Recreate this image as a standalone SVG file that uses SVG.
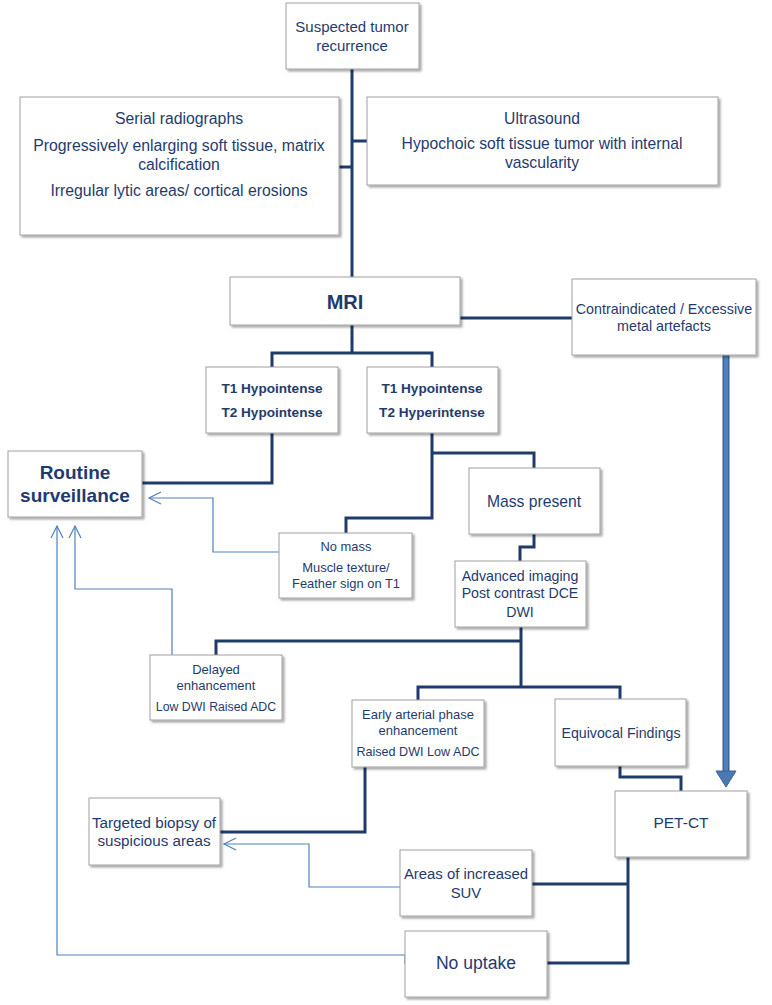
<svg xmlns="http://www.w3.org/2000/svg" width="772" height="1005" viewBox="0 0 772 1005">
<style>
.box{fill:#fff;stroke:#a0a0a0;stroke-width:1;filter:url(#sh)}
.t{font-family:"Liberation Sans",Arial,sans-serif;fill:#1f3b6e;text-anchor:middle}
.b{font-weight:bold}
.c{fill:none;stroke:#1f3b6b;stroke-width:3}
.a{fill:none;stroke:#4f81bd;stroke-width:1.2;marker-end:url(#ah)}
</style>
<defs>
<filter id="sh" x="-10%" y="-10%" width="130%" height="140%">
<feDropShadow dx="2" dy="2" stdDeviation="1.3" flood-color="#000" flood-opacity="0.35"/>
</filter>
<marker id="ah" markerUnits="userSpaceOnUse" markerWidth="16" markerHeight="16" refX="13" refY="7" orient="auto" viewBox="0 0 16 14">
<path d="M1,1 L13,7 L1,13" fill="none" stroke="#4f81bd" stroke-width="1.2"/>
</marker>
</defs>
<rect width="772" height="1005" fill="#fff"/>
<g id="connectors">
<path class="c" d="M352,69 V277"/>
<path class="c" d="M339,167 H352 M352,141 H367"/>
<path class="c" d="M460,318 H572"/>
<path class="c" d="M352,325 V353 M272,367 V353 H432 V367"/>
<path class="c" d="M272,433 V483 H142"/>
<path class="c" d="M432,433 V518 H346 V533 M432,453 H534 V468"/>
<path class="c" d="M534,534 V547 H520 V561"/>
<path class="c" d="M521,627 V687 M216,655 V641 H521 M418,700 V687 H620 V699"/>
<path class="c" d="M365,767 V832 H220"/>
<path class="c" d="M620,766 V777 H681 V791"/>
<path class="c" d="M628,857 V963 H547 M628,884 H532"/>
<path class="a" d="M279,552 H213 V498 H149"/>
<path class="a" d="M172,655 V589 H75 V526"/>
<path class="a" d="M405,964 V955 H57 V526"/>
<path class="a" d="M400,887 H309 V844 H224"/>
<path d="M726,355 V772" stroke="#3a6399" stroke-width="7" fill="none"/>
<path d="M726,355 V772" stroke="#4f81bd" stroke-width="4" fill="none"/>
<polygon points="726,787 716,771 736,771" fill="#4a78b0" stroke="#3a6399" stroke-width="1"/>
</g>
<g id="suspected"><rect class="box" x="286" y="3" width="133" height="66"/>
<text class="t" font-size="15" x="352" y="32">Suspected tumor</text>
<text class="t" font-size="15" x="352" y="51">recurrence</text></g>
<g id="serial"><rect class="box" x="20" y="97" width="319" height="138"/>
<text class="t" font-size="15.8" x="179" y="124">Serial radiographs</text>
<text class="t" font-size="15.8" x="179" y="151">Progressively enlarging soft tissue, matrix</text>
<text class="t" font-size="15.8" x="179" y="170">calcification</text>
<text class="t" font-size="15.8" x="179" y="196">Irregular lytic areas/ cortical erosions</text></g>
<g id="ultrasound"><rect class="box" x="367" y="97" width="351" height="88"/>
<text class="t" font-size="15.7" x="542" y="124">Ultrasound</text>
<text class="t" font-size="15.7" x="542" y="149">Hypochoic soft tissue tumor with internal</text>
<text class="t" font-size="15.7" x="542" y="168">vascularity</text></g>
<g id="mri"><rect class="box" x="230" y="277" width="230" height="48"/>
<text class="t b" font-size="20" x="345" y="309">MRI</text></g>
<g id="contra"><rect class="box" x="572" y="279" width="184" height="76"/>
<text class="t" font-size="14.3" x="664" y="314">Contraindicated / Excessive</text>
<text class="t" font-size="14.3" x="664" y="331">metal artefacts</text></g>
<g id="t1hypo"><rect class="box" x="206" y="367" width="132" height="66"/>
<text class="t b" font-size="13.6" x="272" y="393">T1 Hypointense</text>
<text class="t b" font-size="13.6" x="272" y="417">T2 Hypointense</text></g>
<g id="t1hyper"><rect class="box" x="367" y="367" width="131" height="66"/>
<text class="t b" font-size="13.6" x="432" y="393">T1 Hypointense</text>
<text class="t b" font-size="13.6" x="432" y="417">T2 Hyperintense</text></g>
<g id="routine"><rect class="box" x="8" y="451" width="134" height="66"/>
<text class="t b" font-size="19" x="75" y="479">Routine</text>
<text class="t b" font-size="19" x="75" y="502">surveillance</text></g>
<g id="mass"><rect class="box" x="469" y="468" width="131" height="66"/>
<text class="t" font-size="15.7" x="534" y="507">Mass present</text></g>
<g id="nomass"><rect class="box" x="279" y="533" width="133" height="65"/>
<text class="t" font-size="12.9" x="346" y="551">No mass</text>
<text class="t" font-size="12.9" x="346" y="572">Muscle texture/</text>
<text class="t" font-size="12.9" x="346" y="588">Feather sign on T1</text></g>
<g id="advanced"><rect class="box" x="455" y="561" width="131" height="66"/>
<text class="t" font-size="14.2" x="520" y="581">Advanced imaging</text>
<text class="t" font-size="14.2" x="520" y="598">Post contrast DCE</text>
<text class="t" font-size="14.2" x="520" y="617">DWI</text></g>
<g id="delayed"><rect class="box" x="150" y="655" width="132" height="65"/>
<text class="t" font-size="13" x="216" y="674">Delayed</text>
<text class="t" font-size="13" x="216" y="690">enhancement</text>
<text class="t" font-size="12.3" x="216" y="711">Low DWI Raised ADC</text></g>
<g id="early"><rect class="box" x="352" y="700" width="132" height="67"/>
<text class="t" font-size="13" x="418" y="719">Early arterial phase</text>
<text class="t" font-size="13" x="418" y="735">enhancement</text>
<text class="t" font-size="12.6" x="418" y="756">Raised DWI Low ADC</text></g>
<g id="equivocal"><rect class="box" x="555" y="699" width="131" height="67"/>
<text class="t" font-size="14.2" x="621" y="738">Equivocal Findings</text></g>
<g id="petct"><rect class="box" x="615" y="791" width="132" height="66"/>
<text class="t" font-size="15.5" x="681" y="828">PET-CT</text></g>
<g id="biopsy"><rect class="box" x="89" y="798" width="131" height="67"/>
<text class="t" font-size="15.2" x="154" y="828">Targeted biopsy of</text>
<text class="t" font-size="15.2" x="154" y="846">suspicious areas</text></g>
<g id="areas"><rect class="box" x="400" y="850" width="132" height="66"/>
<text class="t" font-size="14.9" x="466" y="879">Areas of increased</text>
<text class="t" font-size="14.9" x="466" y="898">SUV</text></g>
<g id="nouptake"><rect class="box" x="405" y="931" width="142" height="66"/>
<text class="t" font-size="17.6" x="476" y="969">No uptake</text></g>
</svg>
